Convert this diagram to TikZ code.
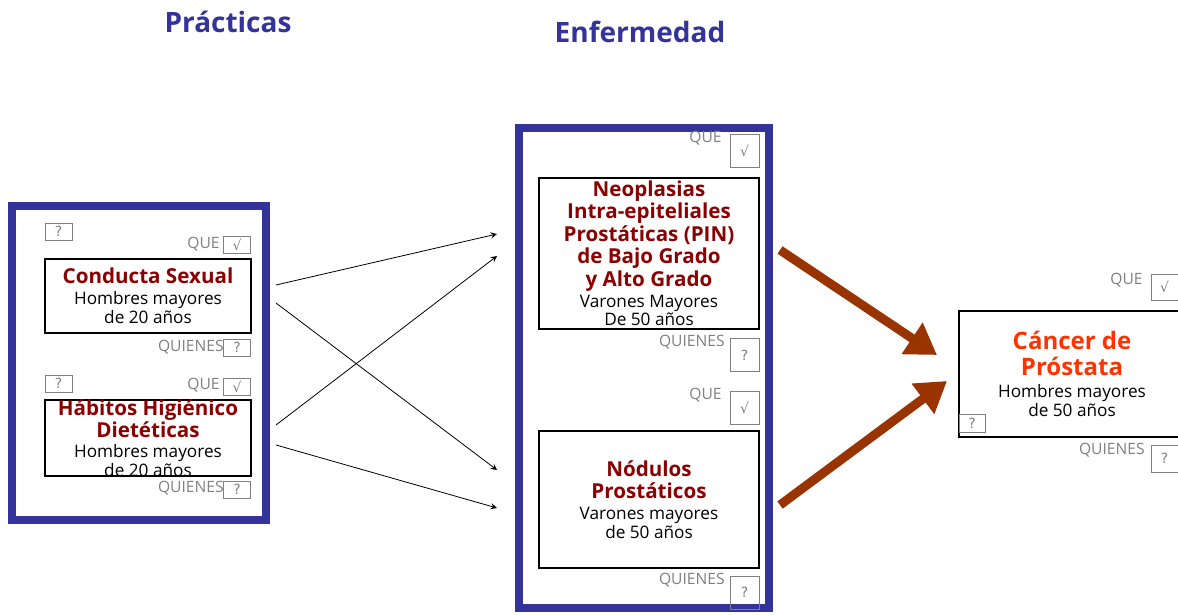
\documentclass[tikz,border=0pt]{standalone}
\usepackage{fontspec}
\setmainfont{Open Sans}
\newfontfamily\symfont{DejaVu Sans}
\usetikzlibrary{arrows, arrows.meta}
\definecolor{frameblue}{HTML}{333399}
\definecolor{maroon}{HTML}{8B0000}
\definecolor{cancerred}{HTML}{FF3300}
\definecolor{brownarrow}{HTML}{993300}
\definecolor{taggray}{HTML}{808080}
\newcommand{\heading}[1]{{\fontsize{10.3}{9.4}\selectfont\bfseries\color{maroon}#1}}
\newcommand{\who}[1]{{\fontsize{8.6}{9.4}\selectfont #1}}
\newcommand{\tightlines}{\lineskiplimit=-100pt\relax}
\tikzstyle{frame} = [rectangle, draw=frameblue, line width=4pt, inner sep=0pt]
\tikzstyle{title} = [font=\fontsize{14}{16}\selectfont\bfseries, text=frameblue]
\tikzstyle{itembox} = [rectangle, draw=black, line width=0.6pt, fill=white, align=center, inner xsep=0pt, inner ysep=-6pt, font=\fontsize{8.6}{9.4}\selectfont\tightlines]
\tikzstyle{tickbox} = [rectangle, draw=taggray, line width=0.5pt, inner sep=0pt, font=\symfont\fontsize{7}{7}\selectfont, text=taggray]
\tikzstyle{tag} = [anchor=east, inner sep=0pt, font=\fontsize{7.8}{8}\selectfont, text=taggray]
\tikzstyle{arrow} = [thin,->,>=stealth]
\tikzstyle{bigarrow} = [line width=4.5pt, draw=brownarrow, -{Triangle[length=15pt,width=18pt]}]

\begin{document}
\begin{tikzpicture}[x=0.5pt, y=-0.5pt]
\useasboundingbox (0,0) rectangle (1178,615);

% titles
\node (tprac) [title] at (228,22) {Prácticas};
\node (tenf) [title] at (640,32) {Enfermedad};

% frames
\node (prac) [frame, minimum width=127pt, minimum height=157pt] at (139,363) {};
\node (enf) [frame, minimum width=125pt, minimum height=240pt] at (644,368) {};

% practicas
\node (q1) [tickbox, minimum width=13.5pt, minimum height=8.5pt] at (58.5,231.5) {?};
\node (que1b) [tickbox, minimum width=13.5pt, minimum height=8.5pt] at (237,244.5) {√};
\node [tag] at (220,244) {QUE};
\node (cond) [itembox, minimum width=103pt, minimum height=37pt] at (148,296)
  {\heading{Conducta Sexual}\\[1.1pt] \who{Hombres mayores}\\ \who{de 20 años}};
\node (qui1b) [tickbox, minimum width=13.5pt, minimum height=8.5pt] at (237,347.5) {?};
\node [tag] at (224,347) {QUIENES};

\node (q2) [tickbox, minimum width=13.5pt, minimum height=8.5pt] at (58.5,383.5) {?};
\node (que2b) [tickbox, minimum width=13.5pt, minimum height=8.5pt] at (237,386.5) {√};
\node [tag] at (220,385) {QUE};
\node (habit) [itembox, minimum width=103pt, minimum height=38pt] at (148,438)
  {\heading{Hábitos Higiénico}\\[1.6pt] \heading{Dietéticas}\\[0.6pt] \who{Hombres mayores}\\ \who{de 20 años}};
\node (qui2b) [tickbox, minimum width=13.5pt, minimum height=8.5pt] at (237,489.5) {?};
\node [tag] at (224,488) {QUIENES};

% enfermedad
\node (que3b) [tickbox, minimum width=14.5pt, minimum height=16.5pt] at (744.5,151) {√};
\node [tag] at (722,138) {QUE};
\node (pin) [itembox, minimum width=110pt, minimum height=75.5pt] at (649,253.5)
  {\heading{Neoplasias}\\[1.8pt] \heading{Intra-epiteliales}\\[1.8pt] \heading{Prostáticas (PIN)}\\[1.8pt] \heading{de Bajo Grado}\\[1.8pt] \heading{y Alto Grado}\\[1.1pt] \who{Varones Mayores}\\ \who{De 50 años}};
\node (qui3b) [tickbox, minimum width=14.5pt, minimum height=16.5pt] at (744.5,355) {?};
\node [tag] at (725,342) {QUIENES};

\node (que4b) [tickbox, minimum width=14.5pt, minimum height=16.5pt] at (744.5,407.5) {√};
\node [tag] at (722,395) {QUE};
\node (nod) [itembox, minimum width=110pt, minimum height=68.5pt] at (649,499.5)
  {\heading{Nódulos}\\[1.6pt] \heading{Prostáticos}\\[1.1pt] \who{Varones mayores}\\ \who{de 50 años}};
\node (qui4b) [tickbox, minimum width=14.5pt, minimum height=16.5pt] at (744.5,592.5) {?};
\node [tag] at (725,580) {QUIENES};

% cancer
\node (que5b) [tickbox, minimum width=13.5pt, minimum height=13pt] at (1164.5,287) {√};
\node [tag] at (1143,280) {QUE};
\node (cancer) [itembox, minimum width=113pt, minimum height=63pt] at (1072,374)
  {{\fontsize{12}{9.4}\selectfont\bfseries\color{cancerred}Cáncer de}\\[3.6pt] {\fontsize{12}{9.4}\selectfont\bfseries\color{cancerred}Próstata}\\[1.6pt] \who{Hombres mayores}\\ \who{de 50 años}};
\node (q5) [tickbox, minimum width=13pt, minimum height=9pt] at (972,423) {?};
\node (qui5b) [tickbox, minimum width=13.5pt, minimum height=13.5pt] at (1164.5,458.5) {?};
\node [tag] at (1145,450) {QUIENES};

% connectors
\coordinate (c1s) at (276,285);
\coordinate (c2s) at (276,303);
\coordinate (h1s) at (276,425);
\coordinate (h2s) at (276,445);
\coordinate (p1e) at (497,234);
\coordinate (p2e) at (497,256);
\coordinate (n1e) at (497,470);
\coordinate (n2e) at (497,508);
\draw [arrow] (c1s) -- (p1e);
\draw [arrow] (c2s) -- (n1e);
\draw [arrow] (h1s) -- (p2e);
\draw [arrow] (h2s) -- (n2e);

\coordinate (pins) at (780,250);
\coordinate (nods) at (780,505);
\coordinate (cane1) at (937,355);
\coordinate (cane2) at (947,381);
\draw [bigarrow] (pins) -- (cane1);
\draw [bigarrow] (nods) -- (cane2);

\end{tikzpicture}
\end{document}
